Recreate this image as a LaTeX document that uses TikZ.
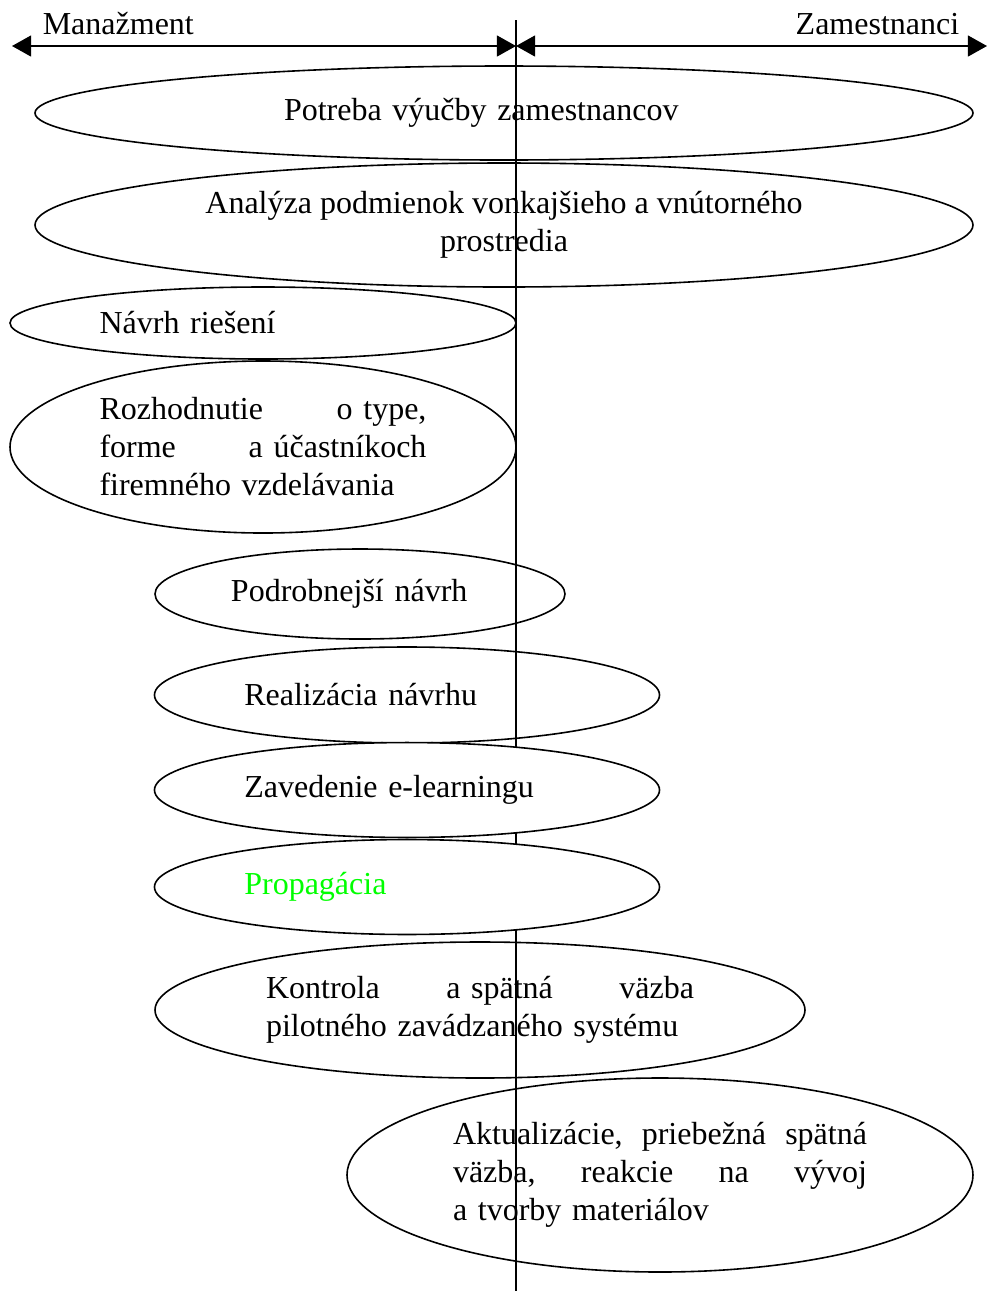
\documentclass[tikz,border=0pt]{standalone}
\usepackage{fontspec}
\setmainfont{Liberation Serif}
\usepackage{xcolor}
\usetikzlibrary{shapes.geometric,
                arrows.meta,
                positioning}

\begin{document}
\begin{tikzpicture}
[x=0.375pt,y=-0.375pt,line width=0.6pt,
 every node/.style={font=\fontsize{12pt}{14.25pt}\selectfont},
 oval/.style={ellipse,draw,inner sep=0pt,align=left},
 covered/.style={fill=white},
 side/.style={{Triangle[length=7.2pt,width=7.9pt]}-{Triangle[length=7.2pt,width=7.9pt]}},
 head/.style={inner sep=0pt}]

\useasboundingbox (0,0) rectangle (988,1291);

% os a dve strany
\coordinate (top) at (516,20);
\coordinate (bottom) at (516,1291);
\coordinate (left) at (12,46);
\coordinate (mid) at (516,46);
\coordinate (right) at (987,46);
\draw (top) -- (bottom);
\draw [side] (left) -- (mid);
\draw [side] (mid) -- (right);
\node [head,anchor=base west] (man) at (42,34) {Manažment};
\node [head,anchor=base east] (zam) at (960,34) {Zamestnanci};

% kroky
\node [oval,minimum width=351.75pt,minimum height=35.25pt,text width=165pt] (potreba) at (504,113)
  {Potreba výučby zamestnancov};
\node [oval,minimum width=351.75pt,minimum height=46.5pt,align=center] (analyza) at (504,225)
  {Analýza podmienok vonkajšieho a vnútorného\\prostredia};
\node [oval,minimum width=189.75pt,minimum height=27pt,text width=122.6pt] (navrh) at (263,323)
  {Návrh riešení};
\node [oval,minimum width=189.75pt,minimum height=64.5pt,text width=122.6pt] (rozhod) at (263,447)
  {Rozhodnutie\hfill o~type,\\forme\hfill a~účastníkoch\\firemného vzdelávania};
\node [oval,minimum width=153.75pt,minimum height=33.75pt,text width=96.75pt] (podrob) at (360,594)
  {Podrobnejší návrh};
\node [oval,minimum width=189.4pt,minimum height=36pt,text width=122pt] (realiz) at (407,695)
  {Realizácia návrhu};
\node [oval,covered,minimum width=189.4pt,minimum height=35.6pt,text width=122pt] (zaved) at (407,790)
  {Zavedenie e-learningu};
\node [oval,covered,minimum width=189.4pt,minimum height=35.6pt,text width=122pt,text=green] (propag) at (407,887)
  {Propagácia};
\node [oval,minimum width=243.75pt,minimum height=51pt,text width=160.5pt] (kontr) at (480,1010)
  {Kontrola\hfill a~spätná\hfill väzba\\pilotného zavádzaného systému};
\node [oval,minimum width=234.75pt,minimum height=72.75pt,text width=155.25pt] (aktual) at (660,1175)
  {Aktualizácie,\hfill priebežná\hfill spätná\\väzba,\hfill reakcie\hfill na\hfill vývoj\\a~tvorby materiálov};
\end{tikzpicture}
\end{document}
